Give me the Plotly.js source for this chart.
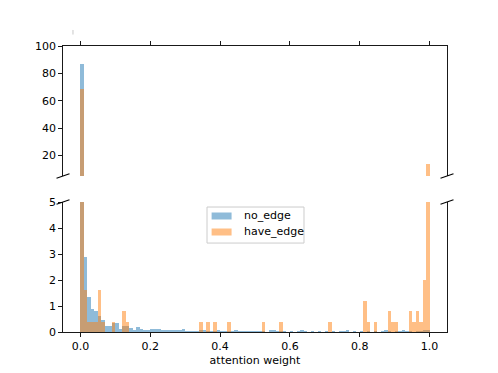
<!DOCTYPE html>
<html>
<head>
<meta charset="utf-8">
<script src="https://cdn.plot.ly/plotly-3.0.1.min.js"></script>
<style>html,body{margin:0;padding:0;background:#fff;}#chart{width:498px;height:373px;}</style>
</head>
<body>
<div id="chart"></div>
<script>
// Histogram (density) values, 100 bins of width 0.01 starting at 0
const binStart = 0;
const binWidth = 0.01;
const noEdge = [
  86.6, 2.87, 1.35, 0.88, 0.80, 0.62, 0.45, 0.23, 0.23, 0.35,
  0.35, 0.12, 0.23, 0.23, 0.14, 0.08, 0.19, 0.10, 0.08, 0.08,
  0.12, 0.13, 0.12, 0.09, 0.06, 0.06, 0.08, 0.06, 0.06, 0.12,
  0.03, 0.03, 0.02, 0.03, 0.06, 0.06, 0.02, 0.03, 0.02, 0.06,
  0.03, 0.02, 0.03, 0.02, 0.06, 0.03, 0.02, 0.02, 0.02, 0.02,
  0.03, 0.03, 0.02, 0.00, 0.06, 0.06, 0.02, 0.02, 0.02, 0.00,
  0.02, 0.00, 0.02, 0.06, 0.03, 0.00, 0.02, 0.00, 0.02, 0.00,
  0.02, 0.00, 0.02, 0.00, 0.02, 0.03, 0.06, 0.00, 0.02, 0.00,
  0.02, 0.00, 0.02, 0.00, 0.02, 0.00, 0.03, 0.06, 0.03, 0.00,
  0.02, 0.03, 0.06, 0.03, 0.02, 0.00, 0.02, 0.03, 0.06, 0.08
];
const haveEdge = [
  68.8, 1.6, 0.4, 0.4, 0.4, 1.6, 0.4, 0, 0, 0.4,
  0, 0, 0.8, 0.4, 0, 0, 0, 0, 0, 0,
  0, 0, 0, 0, 0, 0, 0, 0, 0, 0,
  0, 0, 0, 0, 0.4, 0, 0.4, 0, 0.4, 0,
  0, 0, 0.4, 0, 0, 0, 0, 0, 0, 0,
  0, 0, 0.4, 0, 0, 0, 0, 0.4, 0, 0,
  0, 0, 0, 0, 0, 0, 0, 0, 0, 0,
  0, 0.4, 0, 0, 0, 0, 0, 0, 0, 0,
  0, 1.2, 0.4, 0, 0.4, 0, 0, 0, 0.8, 0.4,
  0.4, 0, 0, 0, 0.8, 0.4, 0.8, 0.4, 2.0, 14.0
];
const seriesNames = ['no_edge', 'have_edge'];
const xTickVals = [0, 0.2, 0.4, 0.6, 0.8, 1.0];
const xTickText = ['0.0', '0.2', '0.4', '0.6', '0.8', '1.0'];
const yLowTicks = [0, 1, 2, 3, 4, 5];
const yHighTicks = [20, 40, 60, 80, 100];

const centers = noEdge.map((_, i) => binStart + binWidth * (i + 0.5));
const colors = ['rgba(31,119,180,0.5)', 'rgba(255,127,14,0.5)'];
const series = [noEdge, haveEdge];

const traces = [];
series.forEach((vals, k) => {
  traces.push({
    type: 'bar', x: centers, y: vals, width: binWidth,
    name: seriesNames[k], xaxis: 'x', yaxis: 'y',
    marker: {color: colors[k], line: {width: 0}},
    showlegend: false, hoverinfo: 'x+y'
  });
  traces.push({
    type: 'bar', x: centers, y: vals, width: binWidth,
    name: seriesNames[k], xaxis: 'x2', yaxis: 'y2',
    marker: {color: colors[k], line: {width: 0}},
    showlegend: false, hoverinfo: 'x+y'
  });
});

const axCommon = {
  showgrid: false, zeroline: false, showline: true,
  linecolor: '#000', linewidth: 0.9,
  ticks: 'outside', ticklen: 3.8, tickwidth: 0.9, tickcolor: '#000',
  tickfont: {size: 11, color: '#000'}
};
const topDom = 0.5455, lowDom = 0.4545;

const breakMark = (xa, ya) => ({
  type: 'line', xref: 'paper', yref: 'paper',
  xsizemode: 'pixel', xanchor: xa, x0: -6.5, x1: 6.5,
  ysizemode: 'pixel', yanchor: ya, y0: -2.2, y1: 2.2,
  line: {color: '#000', width: 1.1}
});

// legend drawn in matplotlib style (box, wide flat patches, labels)
const legendShapes = [
  {type: 'rect', xref: 'paper', yref: 'paper', x0: 0.375, x1: 0.6276, y0: 0.311, y1: 0.437,
   fillcolor: 'rgba(255,255,255,0.8)', line: {color: '#cccccc', width: 1}},
  {type: 'rect', xref: 'paper', yref: 'paper', x0: 0.387, x1: 0.439, y0: 0.3934, y1: 0.4178,
   fillcolor: colors[0], line: {width: 0}},
  {type: 'rect', xref: 'paper', yref: 'paper', x0: 0.387, x1: 0.439, y0: 0.3374, y1: 0.3619,
   fillcolor: colors[1], line: {width: 0}}
];
const legendLabels = [
  {xref: 'paper', yref: 'paper', x: 0.4654, y: 0.4056, xanchor: 'left', yanchor: 'middle',
   text: seriesNames[0], showarrow: false, font: {size: 11, color: '#000'}},
  {xref: 'paper', yref: 'paper', x: 0.4654, y: 0.3497, xanchor: 'left', yanchor: 'middle',
   text: seriesNames[1], showarrow: false, font: {size: 11, color: '#000'}}
];

const layout = {
  width: 498, height: 373,
  margin: {l: 63, r: 51, t: 46, b: 41},
  paper_bgcolor: '#fff', plot_bgcolor: '#fff',
  font: {family: 'DejaVu Sans', size: 11, color: '#000'},
  barmode: 'overlay', bargap: 0, showlegend: false,
  xaxis: Object.assign({}, axCommon, {
    domain: [0, 1], range: [-0.05, 1.05], anchor: 'y',
    tickvals: xTickVals, ticktext: xTickText,
    title: {text: 'attention weight', font: {size: 11, color: '#000'}, standoff: 4}
  }),
  xaxis2: Object.assign({}, axCommon, {
    domain: [0, 1], range: [-0.05, 1.05], anchor: 'y2', side: 'top',
    tickvals: xTickVals, showticklabels: false
  }),
  yaxis: Object.assign({}, axCommon, {
    domain: [0, lowDom], range: [0, 5], anchor: 'x', mirror: true,
    tickvals: yLowTicks
  }),
  yaxis2: Object.assign({}, axCommon, {
    domain: [topDom, 1], range: [5, 100], anchor: 'x2', mirror: true,
    tickvals: yHighTicks
  }),
  annotations: legendLabels,
  shapes: [
    breakMark(0, topDom), breakMark(1, topDom),
    breakMark(0, lowDom), breakMark(1, lowDom),
    {type: 'line', xref: 'paper', yref: 'paper', x0: 0.026, x1: 0.026, y0: 1.04, y1: 1.056,
     line: {color: '#c8c8c8', width: 1}}
  ].concat(legendShapes)
};

Plotly.newPlot('chart', traces, layout, {displayModeBar: false, staticPlot: true});
</script>
</body>
</html>
